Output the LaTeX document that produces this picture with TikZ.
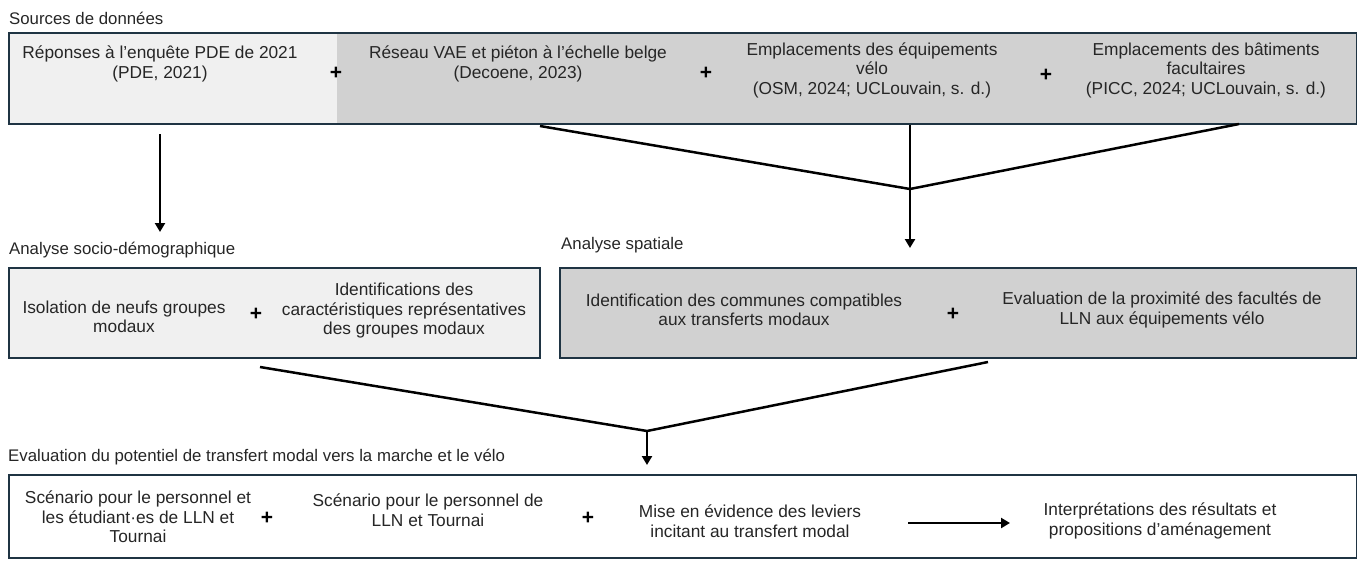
\documentclass[tikz,border=0pt]{standalone}
\usepackage{fontspec}
\setmainfont{Liberation Sans}
\usepackage{xcolor}
\usepackage{tikz}
\usetikzlibrary{calc,arrows.meta}

\definecolor{bord}{HTML}{1F3443}
\definecolor{grisC}{HTML}{F0F0F0}
\definecolor{grisF}{HTML}{D1D1D1}
\definecolor{encre}{HTML}{262626}

\begin{document}
\begin{tikzpicture}[
  x=1pt, y=-1pt,
  font=\fontsize{17.3}{19.5}\selectfont, text=encre,
  panel/.style={draw=bord, line width=2pt, inner sep=0pt, anchor=north west},
  lbl/.style={align=center, inner sep=1pt},
  hdr/.style={anchor=west, inner sep=0pt, font=\fontsize{16.8}{19}\selectfont},
  plus/.style={font=\fontsize{21}{21}\selectfont\bfseries, text=black, inner sep=0pt},
  ln/.style={line width=2.5pt, black},
  arr/.style={-{Triangle[length=9pt, width=10pt]}, line width=2.5pt, black}]
\useasboundingbox (0,0) rectangle (1357,560);

% sources
\node[hdr] (tSrc) at (9,18) {Sources de données};
\node[panel, fill=grisF, minimum width=1348pt, minimum height=91pt,
  path picture={\fill[grisC] (path picture bounding box.north west) rectangle ([xshift=328pt]path picture bounding box.south west);}] (src) at (8,32) {};
\node[lbl] (pde) at (160,64) {Réponses à l’enquête PDE de 2021\\(PDE, 2021)};
\node[lbl] (reseau) at (518,64) {Réseau VAE et piéton à l’échelle belge\\(Decoene, 2023)};
\node[lbl] (equip) at (872,70) {Emplacements des équipements\\vélo\\(OSM, 2024; UCLouvain, s. d.)};
\node[lbl] (bat) at (1206,70) {Emplacements des bâtiments\\facultaires\\(PICC, 2024; UCLouvain, s. d.)};
\node[plus] (p1) at (336,73) {+};
\node[plus] (p2) at (706,73) {+};
\node[plus] (p3) at (1046,75) {+};

% analyse socio-demographique
\node[hdr] (tSocio) at (9,250) {Analyse socio-démographique};
\node[panel, fill=grisC, minimum width=531pt, minimum height=90pt] (socioB) at (8,267) {};
\node[lbl] (isol) at (124,317) {Isolation de neufs groupes\\modaux};
\node[lbl] (ident) at (404,311) {Identifications des\\caractéristiques représentatives\\des groupes modaux};
\node[plus] (p4) at (256,314) {+};

% analyse spatiale
\node[hdr] (tSpat) at (561,245) {Analyse spatiale};
\node[panel, fill=grisF, minimum width=797pt, minimum height=90pt] (spatB) at (559,267) {};
\node[lbl] (commu) at (744,310) {Identification des communes compatibles\\aux transferts modaux};
\node[lbl] (prox) at (1162,310) {Evaluation de la proximité des facultés de\\LLN aux équipements vélo};
\node[plus] (p5) at (953,314) {+};

% evaluation
\node[hdr] (tEval) at (8,457) {Evaluation du potentiel de transfert modal vers la marche et le vélo};
\node[panel, fill=white, minimum width=1348pt, minimum height=83pt] (evalB) at (8,474) {};
\node[lbl] (scen1) at (138,517) {Scénario pour le personnel et\\les étudiant·es de LLN et\\Tournai};
\node[lbl] (scen2) at (428,510) {Scénario pour le personnel de\\LLN et Tournai};
\node[lbl] (mise) at (750,521) {Mise en évidence des leviers\\incitant au transfert modal};
\node[lbl] (interp) at (1160,521) {Interprétations des résultats et\\propositions d’aménagement};
\node[plus] (p6) at (267,518) {+};
\node[plus] (p7) at (588,518) {+};

% connecteurs
\coordinate (jTop) at (910,189);
\coordinate (jBot) at (647,431);
\coordinate (rTop) at (540,126);
\coordinate (bTop) at (1239,124);
\coordinate (sBot) at (260,367);
\coordinate (pBot) at (988,362);
\draw[arr] ($(src.south -| pde)+(0,9)$) -- ($(socioB.north -| pde)+(0,-35)$);
\draw[ln] (rTop) -- (jTop) -- (bTop);
\draw[arr] (src.south -| jTop) -- ($(spatB.north -| jTop)+(0,-19)$);
\draw[ln] (sBot) -- (jBot) -- (pBot);
\draw[arr] (jBot) -- ($(evalB.north -| jBot)+(0,-9)$);
\draw[arr] ($(mise)+(158,2)$) -- ($(interp)+(-150,2)$);
\end{tikzpicture}
\end{document}
